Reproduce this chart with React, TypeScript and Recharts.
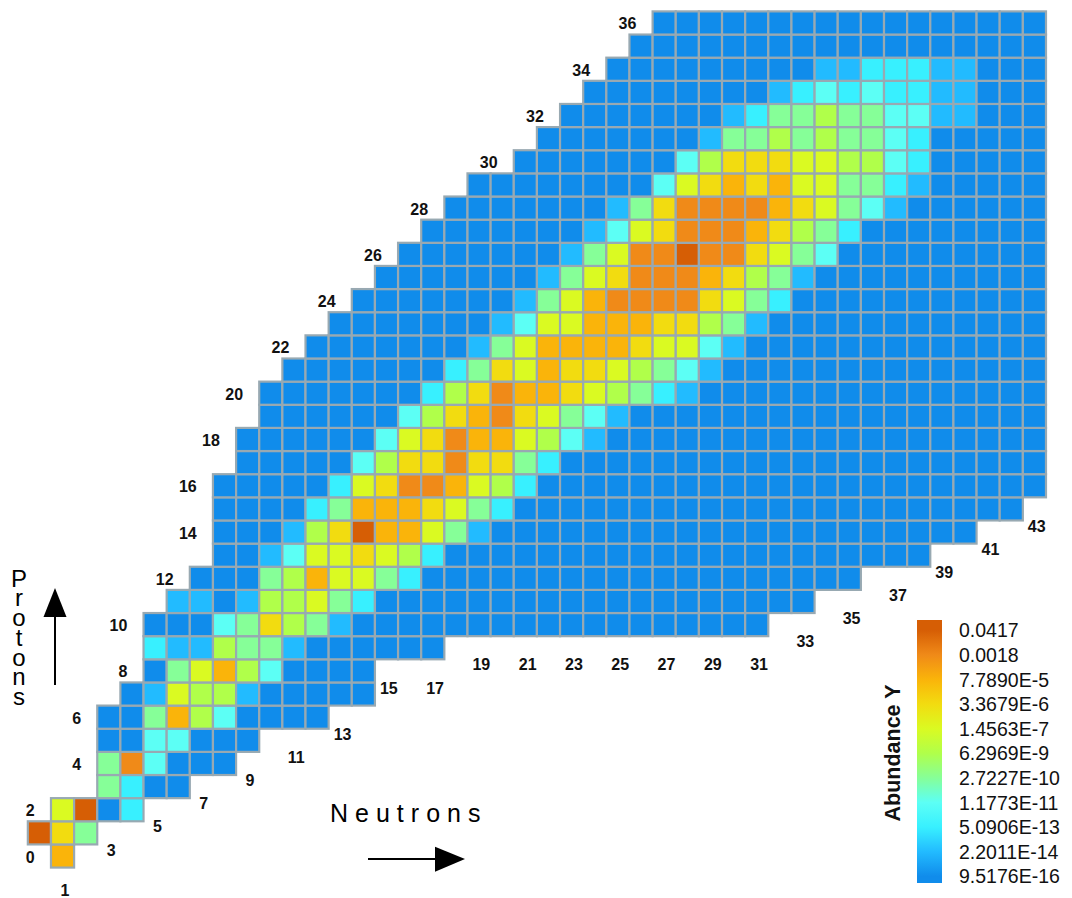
import React from 'react';
import { ScatterChart, Scatter, XAxis, YAxis } from 'recharts';

const W = 1072;
const H = 898;
const PITCH = 23.14; // px per nucleon on both axes
const ORIGIN_X = 39.4; // px position of N = 0
const ORIGIN_Y = 856; // px position of Z = 0
const FONT = '"Liberation Sans", Arial, sans-serif';

// colour bar ticks, bottom to top
const tickValues = [
  9.5176e-16, 2.2011e-14, 5.0906e-13, 1.1773e-11, 2.7227e-10, 6.2969e-9,
  1.4563e-7, 3.3679e-6, 7.789e-5, 0.0018, 0.0417,
];
const tickLabels = [
  '9.5176E-16', '2.2011E-14', '5.0906E-13', '1.1773E-11', '2.7227E-10',
  '6.2969E-9', '1.4563E-7', '3.3679E-6', '7.7890E-5', '0.0018', '0.0417',
];
const levelColors = [
  '#108CEB', '#22BBFF', '#38F0FF', '#5CFFF5', '#86FF98', '#B0FF4A',
  '#DAFA22', '#F2DC10', '#FAB40A', '#F08A18', '#D65E05',
];

// lightest and heaviest neutron number present for each Z = 0..36
const rowFirstN = [
  1, 0, 1, 3, 3, 3, 3, 4, 5, 5, 5, 6, 7, 8, 8, 8, 8, 9, 9, 10, 10, 11, 12, 13,
  14, 15, 16, 17, 18, 19, 21, 22, 23, 24, 25, 26, 27,
];
const rowLastN = [
  1, 2, 4, 6, 8, 9, 12, 14, 14, 17, 31, 33, 35, 38, 40, 42, 43, 43, 43, 43, 43,
  43, 43, 43, 43, 43, 43, 43, 43, 43, 43, 43, 43, 43, 43, 43, 43,
];

// abundance bin (index into tickValues) per row, starting at rowFirstN;
// cells past the end of a row sit in the lowest bin
const rowBins: number[][] = [
  [8],
  [10, 7, 4],
  [6, 10, 0, 2],
  [4, 2],
  [4, 9, 3],
  [0, 0, 3, 3],
  [0, 0, 4, 8, 5, 3],
  [0, 1, 6, 5, 5, 1],
  [0, 4, 6, 8, 5, 3],
  [2, 1, 1, 5, 4, 4, 1],
  [0, 0, 0, 3, 4, 7, 5, 4, 1],
  [1, 1, 0, 1, 5, 5, 6, 4, 2],
  [0, 0, 0, 4, 5, 8, 6, 6, 4, 2],
  [0, 0, 1, 3, 6, 6, 7, 6, 5, 2],
  [0, 0, 0, 1, 5, 7, 10, 8, 8, 6, 4, 1],
  [0, 0, 0, 0, 2, 4, 8, 8, 8, 7, 6, 4, 2],
  [0, 0, 0, 0, 0, 2, 6, 7, 9, 9, 8, 6, 5, 2],
  [0, 0, 0, 0, 0, 3, 5, 7, 7, 9, 7, 7, 4, 2],
  [0, 0, 0, 0, 0, 0, 3, 6, 7, 9, 8, 8, 6, 5, 3, 1],
  [0, 0, 0, 0, 0, 0, 3, 5, 7, 8, 9, 7, 6, 4, 3, 1],
  [0, 0, 0, 0, 0, 0, 0, 2, 5, 7, 9, 8, 8, 7, 6, 5, 4, 2, 1],
  [0, 0, 0, 0, 0, 0, 0, 2, 4, 7, 6, 8, 7, 7, 6, 5, 4, 3, 1],
  [0, 0, 0, 0, 0, 0, 0, 1, 4, 6, 8, 8, 8, 8, 7, 6, 6, 3, 1],
  [0, 0, 0, 0, 0, 0, 0, 1, 3, 6, 6, 8, 8, 8, 7, 7, 5, 4, 1],
  [0, 0, 0, 0, 0, 0, 0, 1, 4, 6, 8, 9, 9, 9, 9, 7, 6, 4, 2],
  [0, 0, 0, 0, 0, 0, 0, 1, 4, 6, 7, 9, 9, 9, 8, 7, 5, 4, 1],
  [0, 0, 0, 0, 0, 0, 0, 1, 4, 6, 9, 9, 10, 9, 9, 7, 6, 4, 3],
  [0, 0, 0, 0, 0, 0, 0, 1, 3, 6, 7, 9, 9, 9, 8, 7, 5, 4, 2],
  [0, 0, 0, 0, 0, 0, 0, 1, 4, 7, 9, 9, 9, 9, 8, 7, 6, 4, 3, 1],
  [0, 0, 0, 0, 0, 0, 0, 0, 3, 6, 7, 8, 7, 8, 6, 6, 4, 4, 2, 1],
  [0, 0, 0, 0, 0, 0, 0, 3, 5, 7, 7, 7, 6, 6, 5, 5, 3, 2],
  [0, 0, 0, 0, 0, 0, 0, 1, 4, 4, 5, 4, 5, 4, 4, 3, 2],
  [0, 0, 0, 0, 0, 0, 0, 1, 2, 4, 4, 5, 4, 4, 3, 3, 1, 1],
  [0, 0, 0, 0, 0, 0, 0, 0, 1, 2, 3, 2, 3, 2, 2, 1, 1],
  [0, 0, 0, 0, 0, 0, 0, 0, 0, 1, 1, 2, 2, 2, 1, 1],
  [],
  [],
];

type Nuclide = { n: number; z: number; y: number };

const cells: Nuclide[] = [];
rowFirstN.forEach((first, z) => {
  for (let n = first; n <= rowLastN[z]; n++) {
    const bin = rowBins[z][n - first] ?? 0;
    cells.push({ n, z, y: tickValues[bin] });
  }
});

// proton numbers: every even Z, left of its first cell
const protonLabels = rowFirstN
  .map((first, z) => ({ n: first - 1.2, z, text: String(z) }))
  .filter((d) => d.z % 2 === 0);

// neutron numbers: every odd N, below its lowest cell
const neutronLabels = Array.from({ length: 22 }, (_, i) => 2 * i + 1).map((n) => {
  const low = rowFirstN.findIndex((f, z) => f <= n && n <= rowLastN[z]);
  return { n: n + 0.1, z: Math.max(low - 1.7, -1.45), text: String(n) };
});

const logMin = Math.log10(tickValues[0]);
const logStep = (Math.log10(tickValues[10]) - logMin) / 10;
const colorFor = (y: number) => {
  const k = Math.round((Math.log10(y) - logMin) / logStep);
  return levelColors[Math.min(10, Math.max(0, k))];
};

const CellShape = (props: any) => {
  const { cx, cy, payload } = props;
  const h = PITCH / 2;
  return (
    <rect
      x={cx - h}
      y={cy - h}
      width={PITCH}
      height={PITCH}
      fill={colorFor(payload.y)}
      stroke='#98A9B2'
      strokeWidth={2.2}
    />
  );
};

const makeLabel = (anchor: 'middle' | 'end') => (props: any) => (
  <text
    x={props.cx}
    y={props.cy + 1}
    textAnchor={anchor}
    dominantBaseline='central'
    fontFamily={FONT}
    fontWeight='bold'
    fontSize={16}
    fill='#111'
  >
    {props.payload.text}
  </text>
);

// colour bar geometry
const BAR_X = 917;
const BAR_TOP = 620;
const BAR_BOTTOM = 883;
const TICK_Y0 = 876.3;
const TICK_STEP = 24.6;

const ColorBar = () => (
  <g>
    <defs>
      <linearGradient id='abundanceGrad' x1='0' y1='1' x2='0' y2='0'>
        {levelColors.map((c, k) => (
          <stop
            key={k}
            offset={(BAR_BOTTOM - (TICK_Y0 - k * TICK_STEP)) / (BAR_BOTTOM - BAR_TOP)}
            stopColor={c}
          />
        ))}
      </linearGradient>
    </defs>
    <rect
      x={BAR_X}
      y={BAR_TOP}
      width={25}
      height={BAR_BOTTOM - BAR_TOP}
      fill='url(#abundanceGrad)'
    />
    {tickLabels.map((t, k) => (
      <text
        key={t}
        x={959}
        y={TICK_Y0 - k * TICK_STEP}
        dominantBaseline='central'
        fontFamily={FONT}
        fontSize={19.5}
        fill='#111'
      >
        {t}
      </text>
    ))}
    <text
      transform='translate(900,753) rotate(-90)'
      textAnchor='middle'
      fontFamily={FONT}
      fontWeight='bold'
      fontSize={21.5}
      fill='#111'
    >
      Abundance Y
    </text>
  </g>
);

// "Protons" is written one letter per line, top to bottom
const AxisTitles = () => (
  <g fill='#000'>
    <text x={19} y={586.7} textAnchor='middle' fontFamily={FONT} fontSize={24}>
      {'Protons'.split('').map((ch, i) => (
        <tspan key={i} x={19} dy={i === 0 ? 0 : 19.7}>
          {ch}
        </tspan>
      ))}
    </text>
    <line x1={55} y1={685} x2={55} y2={612} stroke='#000' strokeWidth={2} />
    <polygon points='55,588 43.5,617 66.5,617' />
    <text x={330} y={822} fontFamily={FONT} fontSize={25} letterSpacing={7}>
      Neutrons
    </text>
    <line x1={368} y1={859} x2={440} y2={859} stroke='#000' strokeWidth={2} />
    <polygon points='465,859 435,846.7 435,871.7' />
  </g>
);

export default function App() {
  return (
    <div style={{ position: 'absolute', left: 0, top: 0, width: W, height: H, background: '#fff' }}>
      <ScatterChart width={W} height={H} margin={{ top: 0, right: 0, bottom: 0, left: 0 }}>
        <XAxis
          type='number'
          dataKey='n'
          hide
          scale='linear'
          allowDataOverflow
          domain={[-ORIGIN_X / PITCH, (W - ORIGIN_X) / PITCH]}
        />
        <YAxis
          type='number'
          dataKey='z'
          hide
          scale='linear'
          allowDataOverflow
          domain={[-(H - ORIGIN_Y) / PITCH, ORIGIN_Y / PITCH]}
        />
        <Scatter data={cells} shape={CellShape} isAnimationActive={false} />
        <Scatter data={protonLabels} shape={makeLabel('end')} isAnimationActive={false} />
        <Scatter data={neutronLabels} shape={makeLabel('middle')} isAnimationActive={false} />
      </ScatterChart>
      <svg
        width={W}
        height={H}
        style={{ position: 'absolute', left: 0, top: 0, pointerEvents: 'none' }}
      >
        <ColorBar />
        <AxisTitles />
      </svg>
    </div>
  );
}
